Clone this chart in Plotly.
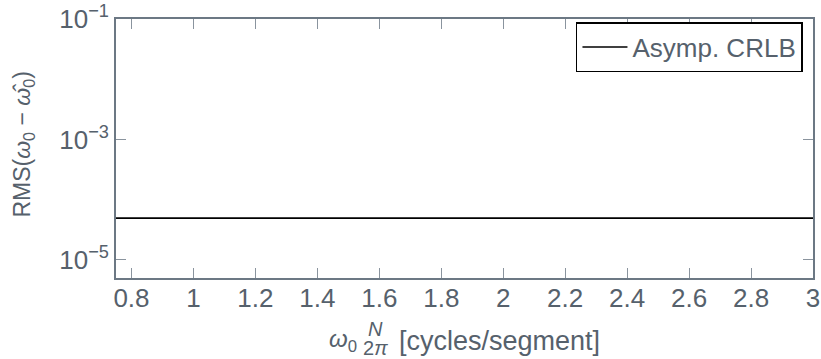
import plotly.graph_objects as go

# data
omega_cycles = [0.75, 3.0]
crlb_rms = [4.95e-5, 4.95e-5]
series_name = "Asymp. CRLB"
x_ticks = [0.8, 1.0, 1.2, 1.4, 1.6, 1.8, 2.0, 2.2, 2.4, 2.6, 2.8, 3.0]
x_tick_text = ["0.8", "1", "1.2", "1.4", "1.6", "1.8", "2", "2.2", "2.4", "2.6", "2.8", "3"]
y_ticks = [1e-5, 1e-3, 1e-1]
y_tick_text = ["10<sup>\u22125</sup>", "10<sup>\u22123</sup>", "10<sup>\u22121</sup>"]

axis_col = "#6c7884"
tick_col = "#8a949e"
text_col = "#56616c"
font_family = "Liberation Sans"
fs = 26

fig = go.Figure()
fig.add_trace(go.Scatter(
    x=omega_cycles, y=crlb_rms, mode="lines",
    line=dict(color="black", width=1.6),
    name=series_name,
))

common_axis = dict(
    ticks="inside", ticklen=10, tickcolor=tick_col, tickwidth=1,
    showline=True, linecolor=axis_col, linewidth=1.6, mirror="allticks",
    showgrid=False, zeroline=False, automargin=False,
    tickfont=dict(family=font_family, size=fs, color=text_col),
)

fig.update_layout(
    width=821, height=359,
    margin=dict(l=116, r=8, t=19, b=81),
    plot_bgcolor="white", paper_bgcolor="white",
    font=dict(family=font_family, size=fs, color=text_col),
    showlegend=True,
    legend=dict(
        x=0.9856, y=0.988, xanchor="right", yanchor="top",
        bordercolor="black", borderwidth=1.5, bgcolor="white",
        font=dict(family=font_family, size=fs, color=text_col),
        itemwidth=45,
    ),
    xaxis=dict(range=[0.75, 3.0], tickvals=x_ticks, ticktext=x_tick_text,
               ticklabeloverflow="allow", ticklabelstandoff=-4, **common_axis),
    yaxis=dict(type="log", range=[-5.3, -1.0], tickvals=y_ticks, ticktext=y_tick_text,
               ticklabeloverflow="allow", **common_axis),
)

ann_font = dict(family=font_family, size=27, color=text_col)
small_font = dict(family=font_family, size=20, color=text_col)
# y-axis title
fig.add_annotation(xref="paper", yref="paper", x=-0.132, y=0.515,
                   text="RMS(<i>\u03c9</i><sub>0</sub> \u2212 <i>\u03c9\u0302</i><sub>0</sub>)",
                   textangle=-90, showarrow=False, xanchor="center", yanchor="middle",
                   font=dict(family=font_family, size=23, color=text_col))
# x-axis title (omega_0 * N / 2pi [cycles/segment])
fig.add_annotation(xref="paper", yref="paper", x=0.349, y=-0.243,
                   text="<i>\u03c9</i><sub>0</sub>", showarrow=False,
                   xanchor="right", yanchor="middle",
                   font=dict(family=font_family, size=24, color=text_col))
fig.add_annotation(xref="paper", yref="paper", x=0.3716, y=-0.196,
                   text="<i>N</i>", showarrow=False,
                   xanchor="center", yanchor="middle", font=small_font)
fig.add_annotation(xref="paper", yref="paper", x=0.373, y=-0.272,
                   text="2<i>\u03c0</i>", showarrow=False,
                   xanchor="center", yanchor="middle", font=small_font)
fig.add_annotation(xref="paper", yref="paper", x=0.403, y=-0.243,
                   text="[cycles/segment]", showarrow=False,
                   xanchor="left", yanchor="middle", font=ann_font)

fig.write_html("out.html", config={"displayModeBar": False},
               post_script="document.body.style.margin='0';")
